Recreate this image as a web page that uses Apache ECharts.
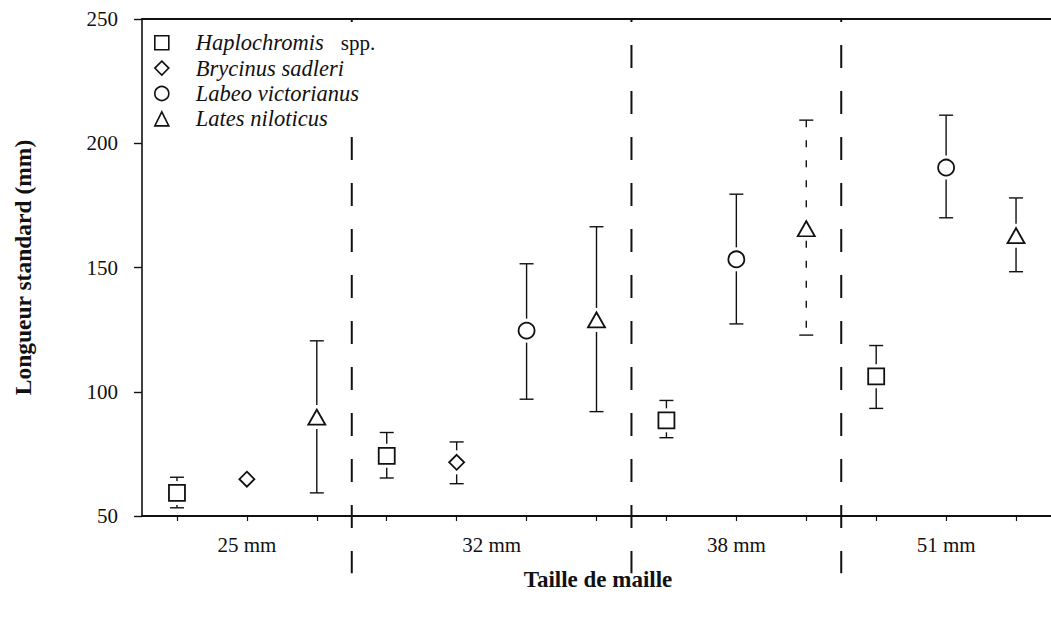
<!DOCTYPE html>
<html><head><meta charset="utf-8">
<script src="https://cdn.jsdelivr.net/npm/echarts@6/dist/echarts.min.js"></script>
<style>html,body{margin:0;padding:0;background:#fff}#c{width:1051px;height:623px}</style>
</head><body><div id="c"></div>
<script>
// ---- data ----
const groups = ['25 mm', '32 mm', '38 mm', '51 mm'];
const speciesNames = ['Haplochromis spp.', 'Brycinus sadleri', 'Labeo victorianus', 'Lates niloticus'];
const yTicks = [50, 100, 150, 200, 250];

const haploMean = [59.3, 74.2, 88.5, 106.2];
const haploLow  = [53.3, 65.3, 81.5, 93.3];
const haploHigh = [65.6, 83.6, 96.5, 118.6];

const brycinusMean = [64.8, 71.6, null, null];
const brycinusLow  = [null, 63.0, null, null];
const brycinusHigh = [null, 79.8, null, null];

const labeoMean = [null, 124.6, 153.3, 190.2];
const labeoLow  = [null, 97.0, 127.3, 170.0];
const labeoHigh = [null, 151.5, 179.5, 211.3];

const latesMean = [89.8, 128.9, 165.6, 162.8];
const latesLow  = [59.3, 92.0, 122.8, 148.3];
const latesHigh = [120.5, 166.4, 209.3, 178.0];

// ---- layout helpers ----
const FONT = 'Liberation Serif';
const INK = '#111';
const means = [haploMean, brycinusMean, labeoMean, latesMean];
const lows = [haploLow, brycinusLow, labeoLow, latesLow];
const highs = [haploHigh, brycinusHigh, labeoHigh, latesHigh];
const symbols = ['rect', 'diamond', 'circle', 'triangle'];
const symbolSizes = [16, 15, 16, [17, 15]];

let slot = 0;
const xPos = speciesNames.map(() => []);
const centers = [];
const seps = [];
const slotTicks = [];
groups.forEach((g, gi) => {
  const first = slot + 1;
  means.forEach((arr, si) => {
    if (arr[gi] != null) { slot++; xPos[si][gi] = slot; slotTicks.push(slot); }
  });
  centers.push((first + slot) / 2);
  seps.push(slot + 0.5);
});
seps.pop();
const nSlots = slot;
const sepBottom = 27;

const scatterSeries = speciesNames.map((name, si) => ({
  name: name,
  type: 'scatter',
  symbol: symbols[si],
  symbolSize: symbolSizes[si],
  z: 5,
  itemStyle: { color: '#fff', borderColor: INK, borderWidth: 1.8, opacity: 1 },
  data: groups.map((g, gi) => means[si][gi] == null ? null : [xPos[si][gi], means[si][gi]]).filter(d => d)
}));

const barData = [];
speciesNames.forEach((name, si) => {
  groups.forEach((g, gi) => {
    if (means[si][gi] != null && lows[si][gi] != null && highs[si][gi] != null) {
      barData.push([xPos[si][gi], lows[si][gi], highs[si][gi], means[si][gi], gi, si]);
    }
  });
});

function renderBars(params, api) {
  const x = api.value(0), lo = api.value(1), hi = api.value(2), m = api.value(3);
  const gi = api.value(4), si = api.value(5);
  const pTop = api.coord([x, hi]), pBot = api.coord([x, lo]), pM = api.coord([x, m]);
  const half = 7, gap = 12;
  const dotted = speciesNames[si] === 'Lates niloticus' && groups[gi] === '38 mm';
  const st = { stroke: INK, lineWidth: 1.4 };
  const vst = dotted ? { stroke: INK, lineWidth: 1.4, lineDash: [7, 13] } : st;
  const children = [
    { type: 'line', shape: { x1: pTop[0] - half, y1: pTop[1], x2: pTop[0] + half, y2: pTop[1] }, style: st },
    { type: 'line', shape: { x1: pBot[0] - half, y1: pBot[1], x2: pBot[0] + half, y2: pBot[1] }, style: st }
  ];
  if (pM[1] - gap > pTop[1]) children.push({ type: 'line', shape: { x1: pTop[0], y1: pTop[1], x2: pTop[0], y2: pM[1] - gap }, style: vst });
  if (pM[1] + gap < pBot[1]) children.push({ type: 'line', shape: { x1: pBot[0], y1: pM[1] + gap, x2: pBot[0], y2: pBot[1] }, style: vst });
  return { type: 'group', children: children };
}

const sepSeries = seps.map(s => ({
  type: 'line',
  data: [[s, yTicks[yTicks.length - 1]], [s, sepBottom]],
  symbol: 'none',
  clip: false,
  silent: true,
  z: 1,
  lineStyle: { color: INK, width: 2, type: [23, 23], dashOffset: 20 }
}));

const chart = echarts.init(document.getElementById('c'), null, { renderer: 'svg' });
chart.setOption({
  animation: false,
  backgroundColor: '#fff',
  grid: { left: 142, top: 19, width: nSlots * 70.4, height: 497 },
  legend: {
    data: speciesNames,
    orient: 'vertical',
    left: 154,
    top: 30,
    padding: 0,
    itemGap: 0,
    itemWidth: 14,
    itemHeight: 14,
    z: 10,
    backgroundColor: '#fff',
    selectedMode: false,
    itemStyle: { color: '#fff', borderColor: INK, borderWidth: 1.6 },
    formatter: function (name) {
      if (name === 'Haplochromis spp.') return '{i|Haplochromis}{n|spp.}';
      return '{i|' + name + '}';
    },
    textStyle: {
      fontFamily: FONT, fontSize: 22.5, color: INK, lineHeight: 25.4,
      rich: {
        i: { fontFamily: FONT, fontSize: 22.5, fontStyle: 'italic', color: INK, lineHeight: 25.4, padding: [0, 0, 0, 22] },
        n: { fontFamily: FONT, fontSize: 21, fontStyle: 'normal', color: INK, lineHeight: 25.4, padding: [0, 0, 0, 17] }
      }
    }
  },
  xAxis: [{
    type: 'value', min: 0.5, max: nSlots + 0.5, position: 'bottom',
    axisLine: { show: true, onZero: false, lineStyle: { color: INK, width: 2 } },
    axisTick: { show: true, customValues: slotTicks, length: 5, lineStyle: { color: INK, width: 1.2 } },
    axisLabel: {
      customValues: centers, margin: 18,
      fontFamily: FONT, fontSize: 21, color: INK,
      formatter: function (v) {
        const i = centers.findIndex(c => Math.abs(c - v) < 1e-6);
        return i >= 0 ? groups[i] : '';
      }
    },
    splitLine: { show: false }
  }, {
    type: 'value', min: 0.5, max: nSlots + 0.5, position: 'top',
    axisLine: { show: true, onZero: false, lineStyle: { color: INK, width: 2 } },
    axisTick: { show: false }, axisLabel: { show: false }, splitLine: { show: false }
  }],
  yAxis: {
    type: 'value', min: yTicks[0], max: yTicks[yTicks.length - 1], interval: 50,
    axisLine: { show: true, lineStyle: { color: INK, width: 1.6 } },
    axisTick: { show: true, length: 8, lineStyle: { color: INK, width: 1.4 } },
    axisLabel: { fontFamily: FONT, fontSize: 21, color: INK, margin: 24 },
    splitLine: { show: false },
    name: 'Longueur standard (mm)', nameLocation: 'middle', nameGap: 107, nameRotate: 90,
    nameTextStyle: { fontFamily: FONT, fontWeight: 'bold', fontSize: 23.5, color: INK }
  },
  graphic: [{
    type: 'text', x: 598, y: 579,
    style: { text: 'Taille de maille', fontFamily: FONT, fontWeight: 'bold', fontSize: 23, fill: INK, textAlign: 'center', textVerticalAlign: 'middle' }
  }],
  series: [
    ...sepSeries,
    { name: 'errorbars', type: 'custom', renderItem: renderBars, data: barData, z: 3, clip: false, silent: true },
    ...scatterSeries
  ]
});
</script>
</body></html>
